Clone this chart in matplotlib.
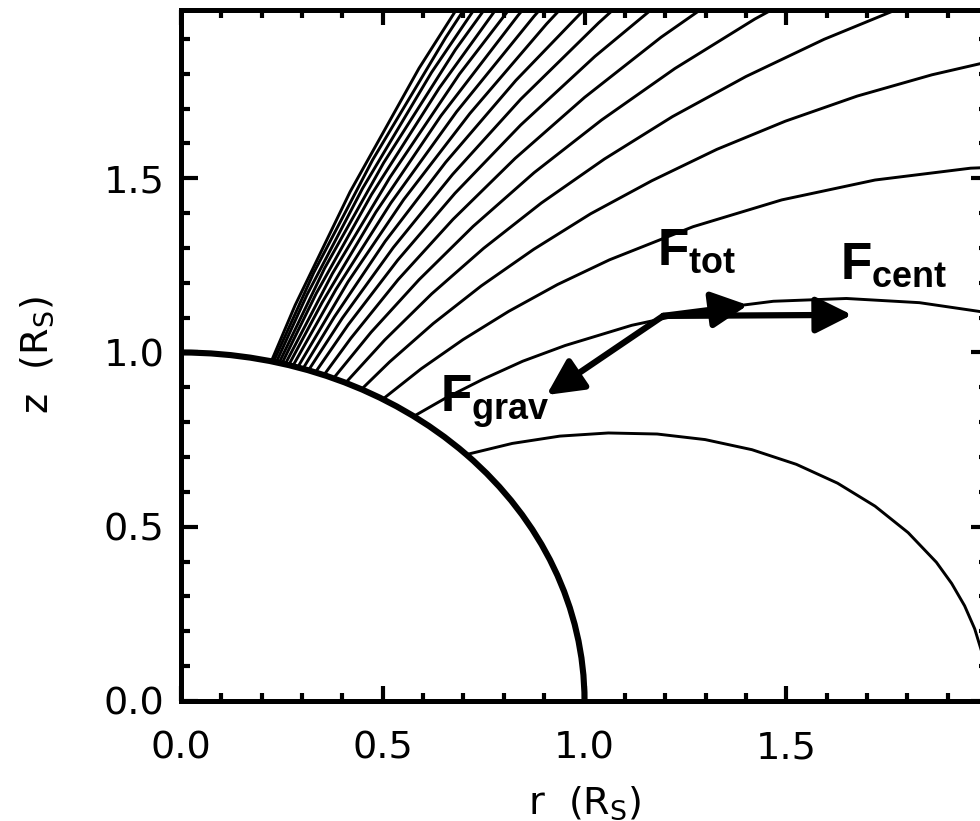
import matplotlib
matplotlib.use('Agg')
import matplotlib.pyplot as plt
from matplotlib.patches import Arc
from matplotlib.ticker import MultipleLocator, FormatStrFormatter

plt.rcParams['mathtext.fontset'] = 'custom'
plt.rcParams['mathtext.bf'] = 'Liberation Sans:bold'
plt.rcParams['mathtext.rm'] = 'DejaVu Sans'
plt.rcParams['mathtext.it'] = 'DejaVu Sans:italic'
plt.rcParams['mathtext.sf'] = 'DejaVu Sans'

# star surface (radius in stellar radii)
star_radius = 1.0

# field lines, one per shell, r and z in R_s
# (footpoint on the star first, last point past the frame)
r_L20 = [0.224, 0.283, 0.419, 0.590, 0.800]
z_L20 = [0.975, 1.136, 1.461, 1.816, 2.198]
r_L19 = [0.229, 0.329, 0.475, 0.656, 0.760]
z_L19 = [0.973, 1.229, 1.553, 1.904, 2.088]
r_L18 = [0.236, 0.312, 0.450, 0.621, 0.828]
z_L18 = [0.972, 1.165, 1.471, 1.804, 2.158]
r_L17 = [0.243, 0.356, 0.502, 0.680, 0.894]
z_L17 = [0.970, 1.242, 1.544, 1.869, 2.212]
r_L16 = [0.250, 0.335, 0.472, 0.640, 0.841]
z_L16 = [0.968, 1.169, 1.453, 1.759, 2.082]
r_L15 = [0.258, 0.375, 0.518, 0.690, 0.895]
z_L15 = [0.966, 1.226, 1.503, 1.799, 2.108]
r_L14 = [0.267, 0.350, 0.483, 0.644, 0.835, 0.942]
z_L14 = [0.964, 1.144, 1.403, 1.679, 1.967, 2.116]
r_L13 = [0.277, 0.384, 0.520, 0.683, 0.875, 0.981]
z_L13 = [0.961, 1.181, 1.429, 1.691, 1.965, 2.104]
r_L12 = [0.289, 0.414, 0.552, 0.716, 0.906, 1.011]
z_L12 = [0.957, 1.203, 1.439, 1.686, 1.943, 2.073]
r_L11 = [0.302, 0.380, 0.506, 0.656, 0.830, 1.029]
z_L11 = [0.953, 1.102, 1.319, 1.546, 1.781, 2.020]
r_L10 = [0.316, 0.400, 0.526, 0.673, 0.842, 1.035, 1.140]
z_L10 = [0.949, 1.099, 1.301, 1.511, 1.727, 1.946, 2.056]
r_L9 = [0.333, 0.414, 0.537, 0.679, 0.842, 1.026, 1.230]
z_L9 = [0.943, 1.079, 1.265, 1.457, 1.653, 1.850, 2.046]
r_L8 = [0.354, 0.421, 0.538, 0.674, 0.828, 1.000, 1.190, 1.399]
z_L8 = [0.935, 1.041, 1.209, 1.382, 1.557, 1.732, 1.905, 2.074]
r_L7 = [0.378, 0.471, 0.590, 0.724, 0.875, 1.042, 1.224, 1.422, 1.634]
z_L7 = [0.926, 1.058, 1.209, 1.362, 1.516, 1.667, 1.815, 1.957, 2.091]
r_L6 = [0.408, 0.505, 0.621, 0.750, 0.893, 1.049, 1.218, 1.400, 1.594, 1.798, 2.011]
z_L6 = [0.913, 1.036, 1.168, 1.299, 1.429, 1.555, 1.677, 1.792, 1.899, 1.996, 2.083]
r_L5 = [0.447, 0.517, 0.625, 0.744, 0.874, 1.015, 1.167, 1.328, 1.498, 1.676, 1.861, 2.052]
z_L5 = [0.894, 0.973, 1.083, 1.191, 1.296, 1.398, 1.493, 1.583, 1.664, 1.736, 1.797, 1.848]
r_L4 = [0.500, 0.595, 0.699, 0.812, 0.933, 1.062, 1.269, 1.489, 1.720, 1.957, 2.199]
z_L4 = [0.866, 0.953, 1.037, 1.118, 1.195, 1.266, 1.361, 1.438, 1.495, 1.529, 1.540]
r_L3 = [0.577, 0.654, 0.748, 0.847, 0.952, 1.117, 1.290, 1.468, 1.649, 1.830, 2.007]
z_L3 = [0.817, 0.868, 0.923, 0.975, 1.020, 1.078, 1.121, 1.147, 1.155, 1.143, 1.113]
r_L2 = [0.707, 0.821, 0.939, 1.059, 1.180, 1.299, 1.415, 1.525, 1.627, 1.720,
        1.802, 1.872, 1.910, 1.942, 1.967, 1.985, 1.996, 2.000]
z_L2 = [0.707, 0.739, 0.760, 0.769, 0.766, 0.750, 0.721, 0.679, 0.625, 0.559,
        0.483, 0.398, 0.337, 0.273, 0.207, 0.139, 0.070, 0.000]

field_lines = [(r_L20, z_L20), (r_L19, z_L19), (r_L18, z_L18), (r_L17, z_L17),
               (r_L16, z_L16), (r_L15, z_L15), (r_L14, z_L14), (r_L13, z_L13),
               (r_L12, z_L12), (r_L11, z_L11), (r_L10, z_L10), (r_L9, z_L9),
               (r_L8, z_L8), (r_L7, z_L7), (r_L6, z_L6), (r_L5, z_L5),
               (r_L4, z_L4), (r_L3, z_L3), (r_L2, z_L2)]

# force vectors: common base point on the field line, and the tips
force_base = (1.195, 1.105)
force_names = ['tot', 'cent', 'grav']
force_tip_r = [1.405, 1.663, 0.906]
force_tip_z = [1.136, 1.108, 0.878]

# label anchors (left edge of F, on its baseline), data coordinates
label_pos = [(1.180, 1.251), (1.633, 1.211), (0.642, 0.829)]


fig = plt.figure(figsize=(9.8, 8.21), dpi=100)
ax = fig.add_axes([181/980, (821-700.9)/821, 807/980, 690.9/821])

for r, z in field_lines:
    ax.plot(r, z, color='black', lw=2.1, solid_joinstyle='round')

ax.add_patch(Arc((0, 0), 2*star_radius, 2*star_radius, theta1=0, theta2=90,
                 lw=4.4, color='black'))

for name, tr, tz, lp in zip(force_names, force_tip_r, force_tip_z, label_pos):
    ax.annotate('', xy=(tr, tz), xytext=force_base,
                arrowprops=dict(arrowstyle='-|>,head_length=1.1,head_width=0.55',
                                mutation_scale=20, lw=4.5, color='black',
                                shrinkA=0, shrinkB=0))
    ax.text(lp[0], lp[1], r'$\mathbf{F}_{\mathbf{%s}}$' % name, fontsize=37,
            ha='left', va='baseline')

ax.set_xlim(0, 2.0)
ax.set_ylim(0, 1.983)

ax.set_xticks([0.0, 0.5, 1.0, 1.5])
ax.set_yticks([0.0, 0.5, 1.0, 1.5])
ax.xaxis.set_minor_locator(MultipleLocator(0.1))
ax.yaxis.set_minor_locator(MultipleLocator(0.1))
ax.xaxis.set_major_formatter(FormatStrFormatter('%.1f'))
ax.yaxis.set_major_formatter(FormatStrFormatter('%.1f'))

ax.tick_params(which='both', direction='in', top=True, right=True, width=3)
ax.tick_params(axis='x', which='major', length=10.5, pad=21, labelsize=27.5)
ax.tick_params(axis='x', which='minor', length=5.5)
ax.tick_params(axis='y', which='major', length=12, pad=12, labelsize=27.5)
ax.tick_params(axis='y', which='minor', length=6.5)
for s in ax.spines.values():
    s.set_linewidth(3.6)

ax.set_xlabel('r  (R$_\\mathregular{S}$)', fontsize=27.5, labelpad=13)
ax.set_ylabel('z  (R$_\\mathregular{S}$)', fontsize=27.5, labelpad=34)

plt.savefig('out.png', dpi=100)
